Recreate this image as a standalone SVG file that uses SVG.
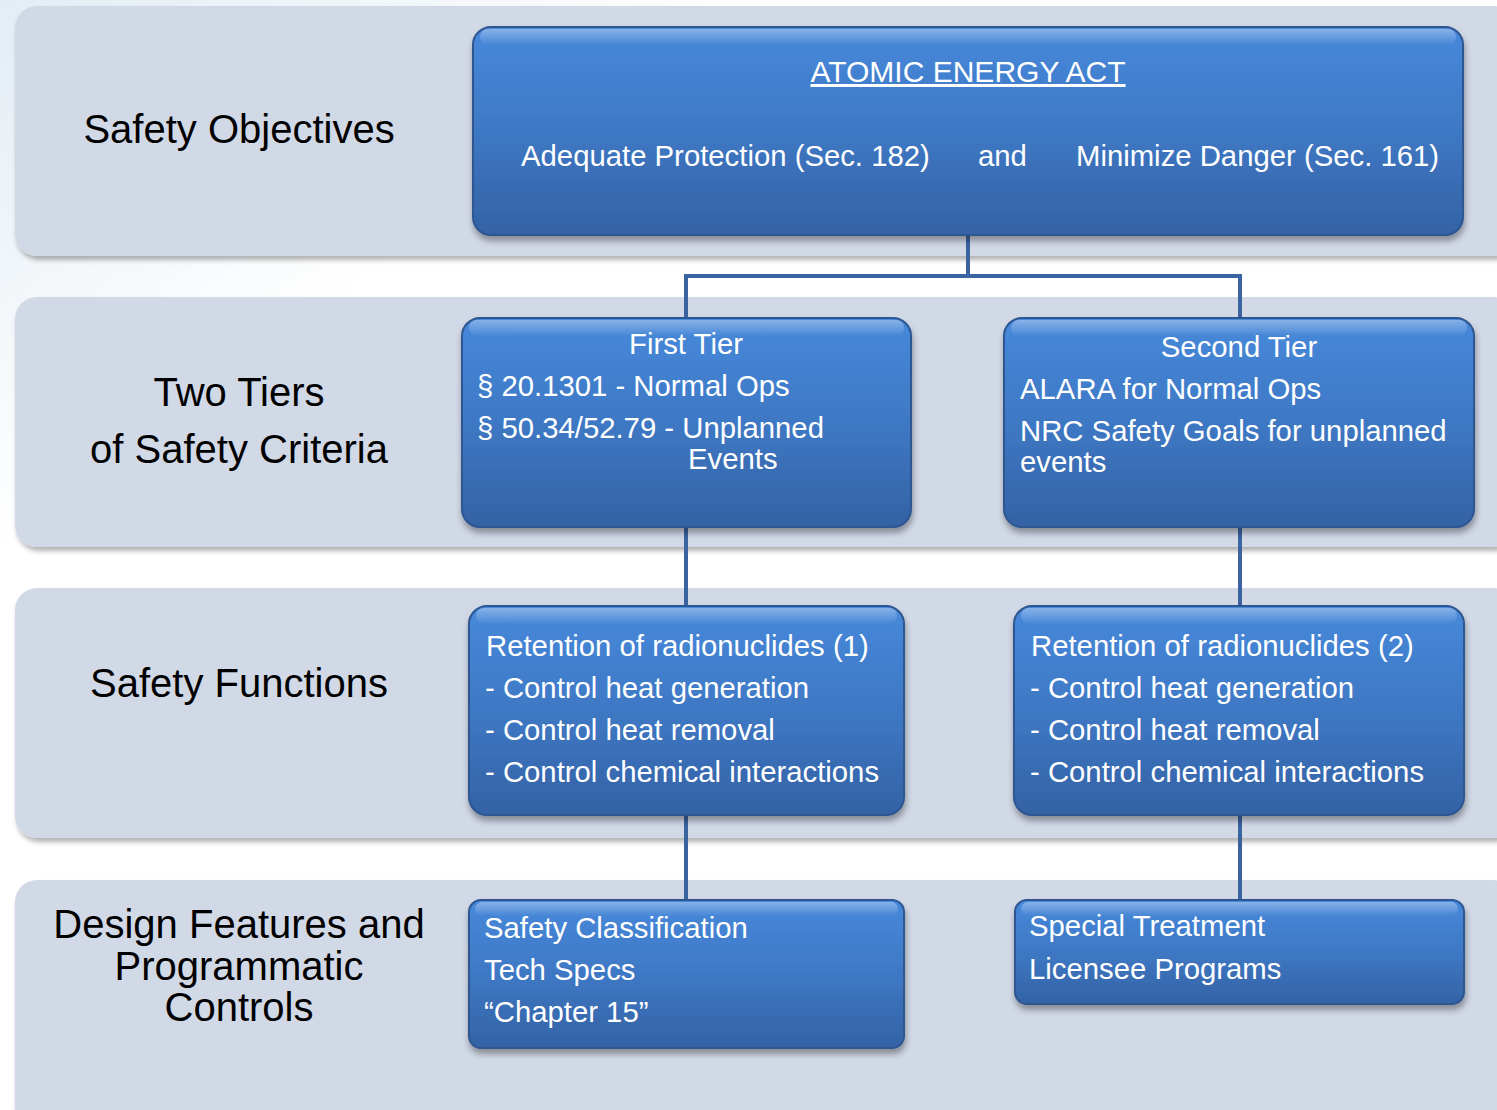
<svg xmlns="http://www.w3.org/2000/svg" width="1497" height="1110" viewBox="0 0 1497 1110">
<defs>
<linearGradient id="bg" x1="0" y1="0" x2="1" y2="1">
<stop offset="0" stop-color="#e3edf5"/>
<stop offset="0.25" stop-color="#ffffff"/>
<stop offset="1" stop-color="#ffffff"/>
</linearGradient>
<linearGradient id="blue" x1="0" y1="0" x2="0" y2="1">
<stop offset="0" stop-color="#4789db"/>
<stop offset="0.5" stop-color="#3e78c4"/>
<stop offset="1" stop-color="#3462a5"/>
</linearGradient>
<linearGradient id="gloss" x1="0" y1="0" x2="0" y2="1">
<stop offset="0" stop-color="#ffffff" stop-opacity="0.35"/>
<stop offset="1" stop-color="#ffffff" stop-opacity="0"/>
</linearGradient>
<filter id="bandShadow" x="-5%" y="-5%" width="110%" height="115%">
<feDropShadow dx="2" dy="4" stdDeviation="2.5" flood-color="#000" flood-opacity="0.3"/>
</filter>
<filter id="boxShadow" x="-5%" y="-5%" width="110%" height="120%">
<feDropShadow dx="1" dy="5" stdDeviation="3" flood-color="#000" flood-opacity="0.35"/>
</filter>
</defs>
<style>
.band{fill:#d1d8e6;filter:url(#bandShadow);}
.box{fill:url(#blue);stroke:#2d5691;stroke-width:2;filter:url(#boxShadow);}
.gl{fill:url(#gloss);}
.lbl{font-family:"Liberation Sans",Arial,sans-serif;font-size:40px;fill:#000;text-anchor:middle;}
.t{font-family:"Liberation Sans",Arial,sans-serif;font-size:29.3px;fill:#fff;}
.c{text-anchor:middle;}
.conn{stroke:#3a64a0;stroke-width:4;fill:none;}
</style>
<rect x="0" y="0" width="1497" height="1110" fill="url(#bg)"/>

<g id="bands">
<rect class="band" x="15" y="6" width="1500" height="250" rx="22"/>
<rect class="band" x="15" y="297" width="1500" height="250" rx="22"/>
<rect class="band" x="15" y="588" width="1500" height="250" rx="22"/>
<rect class="band" x="15" y="880" width="1500" height="250" rx="22"/>
</g>

<g id="connectors">
<path class="conn" d="M968 235 V276 M686 276 H1240 M686 274 V318 M1240 274 V318"/>
<path class="conn" d="M686 527 V606 M686 815 V900"/>
<path class="conn" d="M1240 527 V606 M1240 815 V900"/>
</g>

<g id="label-objectives"><text class="lbl" x="239" y="143">Safety Objectives</text></g>
<g id="label-tiers"><text class="lbl" x="239" y="406">Two Tiers</text><text class="lbl" x="239" y="463">of Safety Criteria</text></g>
<g id="label-functions"><text class="lbl" x="239" y="697">Safety Functions</text></g>
<g id="label-design"><text class="lbl" x="239" y="938">Design Features and</text><text class="lbl" x="239" y="980">Programmatic</text><text class="lbl" x="239" y="1021">Controls</text></g>

<g id="aea">
<rect class="box" x="473" y="27" width="990" height="208" rx="18"/>
<rect class="gl" x="480" y="29" width="976" height="16" rx="8"/>
<text class="t c" x="968" y="82" text-decoration="underline" style="font-size:30px">ATOMIC ENERGY ACT</text>
<text class="t" x="521" y="166">Adequate Protection (Sec. 182)</text>
<text class="t" x="978" y="166">and</text>
<text class="t" x="1076" y="166">Minimize Danger (Sec. 161)</text>
</g>

<g id="first-tier">
<rect class="box" x="462" y="318" width="449" height="209" rx="18"/>
<rect class="gl" x="469" y="320" width="435" height="16" rx="8"/>
<text class="t c" x="686" y="354">First Tier</text>
<text class="t" x="477" y="396">§ 20.1301 - Normal Ops</text>
<text class="t" x="477" y="438">§ 50.34/52.79 - Unplanned</text>
<text class="t" x="688" y="469">Events</text>
</g>

<g id="second-tier">
<rect class="box" x="1004" y="318" width="470" height="209" rx="18"/>
<rect class="gl" x="1011" y="320" width="456" height="16" rx="8"/>
<text class="t c" x="1239" y="357">Second Tier</text>
<text class="t" x="1020" y="399">ALARA for Normal Ops</text>
<text class="t" x="1020" y="441">NRC Safety Goals for unplanned</text>
<text class="t" x="1020" y="472">events</text>
</g>

<g id="functions-1">
<rect class="box" x="469" y="606" width="435" height="209" rx="18"/>
<rect class="gl" x="476" y="608" width="421" height="16" rx="8"/>
<text class="t" x="486" y="656">Retention of radionuclides (1)</text>
<text class="t" x="485" y="698">- Control heat generation</text>
<text class="t" x="485" y="740">- Control heat removal</text>
<text class="t" x="485" y="782">- Control chemical interactions</text>
</g>

<g id="functions-2">
<rect class="box" x="1014" y="606" width="450" height="209" rx="18"/>
<rect class="gl" x="1021" y="608" width="436" height="16" rx="8"/>
<text class="t" x="1031" y="656">Retention of radionuclides (2)</text>
<text class="t" x="1030" y="698">- Control heat generation</text>
<text class="t" x="1030" y="740">- Control heat removal</text>
<text class="t" x="1030" y="782">- Control chemical interactions</text>
</g>

<g id="design-1">
<rect class="box" x="469" y="900" width="435" height="148" rx="12"/>
<rect class="gl" x="475" y="902" width="423" height="14" rx="7"/>
<text class="t" x="484" y="938">Safety Classification</text>
<text class="t" x="484" y="980">Tech Specs</text>
<text class="t" x="484" y="1022">“Chapter 15”</text>
</g>

<g id="design-2">
<rect class="box" x="1015" y="900" width="449" height="104" rx="12"/>
<rect class="gl" x="1021" y="902" width="437" height="14" rx="7"/>
<text class="t" x="1029" y="936">Special Treatment</text>
<text class="t" x="1029" y="979">Licensee Programs</text>
</g>
</svg>
